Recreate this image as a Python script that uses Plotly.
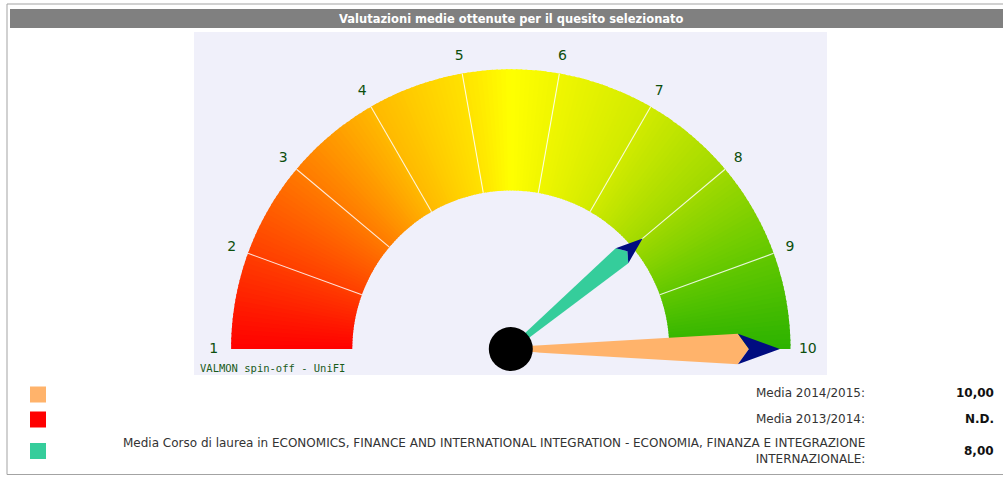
import math
import plotly.graph_objects as go

# ---------------- data ----------------
scale_min = 1
scale_max = 10
tick_labels = ["1", "2", "3", "4", "5", "6", "7", "8", "9", "10"]
tick_values = [1, 2, 3, 4, 5, 6, 7, 8, 9, 10]

series_names = [
    "Media 2014/2015:",
    "Media 2013/2014:",
    "Media Corso di laurea in ECONOMICS, FINANCE AND INTERNATIONAL INTEGRATION - ECONOMIA, FINANZA E INTEGRAZIONE<br>INTERNAZIONALE:",
]
series_values = [10.00, None, 8.00]

title_text = "Valutazioni medie ottenute per il quesito selezionato"
credit_text = "VALMON spin-off - UniFI"

# ---------------- styles ----------------
series_colors = ["#ffb36b", "#ff0000", "#35cd9b"]
needle_len = [0.962, 0.962, 0.615]      # fraction of outer radius
arrow_color = "#000c80"

gradient_stops = [  # (fraction of scale, rgb)
    (0.000, (255, 0, 0)),
    (0.111, (255, 62, 0)),
    (0.222, (255, 122, 0)),
    (0.333, (255, 185, 0)),
    (0.444, (255, 226, 0)),
    (0.500, (255, 255, 0)),
    (0.556, (240, 246, 0)),
    (0.667, (208, 234, 0)),
    (0.778, (160, 217, 0)),
    (0.889, (98, 200, 0)),
    (1.000, (44, 178, 0)),
]

W, H = 1003, 480
CX, CY = 510.8, 349.0
R_OUT, R_IN, R_LAB, R_MAX = 279.7, 158.5, 297.0, 320.0
SECT = 8.0


def theta_of(v):
    return (v - scale_min) / (scale_max - scale_min) * 180.0


def grad(f):
    for (f0, c0), (f1, c1) in zip(gradient_stops[:-1], gradient_stops[1:]):
        if f <= f1:
            t = (f - f0) / (f1 - f0) if f1 > f0 else 0
            c = [round(a + (b - a) * t) for a, b in zip(c0, c1)]
            return "rgb(%d,%d,%d)" % tuple(c)
    return "rgb(%d,%d,%d)" % gradient_stops[-1][1]


fig = go.Figure()

# gauge band (fine barpolar slices for the gradient)
step = 1.0
th, wd, cols = [], [], []
n = int(180 / step)
for i in range(n):
    a = i * step
    b = min(a + step * 1.35, 180.0)
    th.append((a + b) / 2)
    wd.append(b - a)
    cols.append(grad((i + 0.5) / n))
fig.add_trace(go.Barpolar(
    r=[R_OUT - R_IN] * n, base=[R_IN] * n, theta=th, width=wd,
    marker=dict(color=cols, line=dict(width=0)), hoverinfo="skip", showlegend=False))

# white dividers between classes
dr, dt = [], []
for v in tick_values[1:-1]:
    dr += [R_IN, R_OUT, None]
    dt += [theta_of(v), theta_of(v), None]
fig.add_trace(go.Scatterpolar(r=dr, theta=dt, mode="lines",
                              line=dict(color="rgba(255,255,255,0.85)", width=1.1),
                              hoverinfo="skip", showlegend=False))

# tick labels
fig.add_trace(go.Scatterpolar(
    r=[R_LAB] * len(tick_values), theta=[theta_of(v) for v in tick_values],
    mode="text", text=tick_labels, cliponaxis=False,
    textfont=dict(family="DejaVu Sans", size=14, color="#0d4f0d"),
    hoverinfo="skip", showlegend=False))


def polar_pts(theta0, pts):
    rs, ts = [], []
    for d, w in pts:
        rs.append(math.hypot(d, w))
        ts.append(theta0 + math.degrees(math.atan2(w, d)))
    rs.append(rs[0]); ts.append(ts[0])
    return rs, ts


# needles
for name, val, col, lf in zip(series_names, series_values, series_colors, needle_len):
    if val is None:
        continue
    L = lf * R_OUT
    t0 = theta_of(val)
    hw = 0.057 * L
    body = [(0.1, 2.0), (0.844 * L, hw), (0.885 * L, 0.0), (0.844 * L, -hw), (0.1, -2.0)]
    head = [(0.844 * L, hw), (L, 0.0), (0.844 * L, -hw), (0.885 * L, 0.0)]
    r1, t1 = polar_pts(t0, body)
    fig.add_trace(go.Scatterpolar(r=r1, theta=t1, mode="lines", fill="toself",
                                  fillcolor=col, line=dict(width=0, color=col),
                                  hoverinfo="skip", showlegend=False))
    r2, t2 = polar_pts(t0, head)
    fig.add_trace(go.Scatterpolar(r=r2, theta=t2, mode="lines", fill="toself",
                                  fillcolor=arrow_color, line=dict(width=0, color=arrow_color),
                                  hoverinfo="skip", showlegend=False))

# hub
fig.add_trace(go.Scatterpolar(r=[0], theta=[0], mode="markers", cliponaxis=False,
                              marker=dict(size=44, color="black", line=dict(width=0)),
                              hoverinfo="skip", showlegend=False))

# polar domain so the centre lands at (CX, CY) with R_MAX px radius
x0 = (CX - R_MAX) / W
x1 = (CX + R_MAX) / W
top = CY - R_MAX
bot = CY + R_MAX * math.sin(math.radians(SECT))
y0 = 1 - bot / H
y1 = 1 - top / H


def px(x):
    return x / W


def py(y):
    return 1 - y / H


shapes = [
    dict(type="rect", xref="paper", yref="paper", x0=px(7), x1=px(1012), y0=py(4), y1=py(474.5),
         line=dict(color="#a3a3a3", width=1), fillcolor="rgba(0,0,0,0)", layer="below"),
    dict(type="rect", xref="paper", yref="paper", x0=px(10), x1=px(1010), y0=py(9), y1=py(28),
         line=dict(width=0), fillcolor="#808080", layer="below"),
    dict(type="rect", xref="paper", yref="paper", x0=px(194), x1=px(827), y0=py(32), y1=py(375),
         line=dict(width=0), fillcolor="#f0f0fa", layer="below"),
]
sq_y = [394.5, 419.5, 451]
for col, yc in zip(series_colors, sq_y):
    shapes.append(dict(type="rect", xref="paper", yref="paper", x0=px(30), x1=px(46),
                       y0=py(yc - 8), y1=py(yc + 8), line=dict(width=0), fillcolor=col))

annotations = [
    dict(text="<b>%s</b>" % title_text, x=px(512), y=py(19), xref="paper", yref="paper",
         showarrow=False, xanchor="center", yanchor="middle",
         font=dict(family="DejaVu Sans", size=11.5, color="white")),
    dict(text=credit_text, x=px(198), y=py(367.5), xref="paper", yref="paper",
         showarrow=False, xanchor="left", yanchor="middle",
         font=dict(family="DejaVu Sans Mono", size=10.5, color="#1a5c1a")),
]
label_y = [393, 419, 451]
for name, val, yc in zip(series_names, series_values, label_y):
    annotations.append(dict(text=name, x=px(867), y=py(yc), xref="paper", yref="paper",
                            showarrow=False, xanchor="right", yanchor="middle", align="right",
                            font=dict(family="DejaVu Sans", size=12, color="#333333")))
    vtxt = "N.D." if val is None else ("%.2f" % val).replace(".", ",")
    annotations.append(dict(text="<b>%s</b>" % vtxt, x=px(996), y=py(yc), xref="paper", yref="paper",
                            showarrow=False, xanchor="right", yanchor="middle",
                            font=dict(family="DejaVu Sans", size=12, color="#111111")))

fig.update_layout(
    width=W, height=H, margin=dict(l=0, r=0, t=0, b=0),
    paper_bgcolor="white", plot_bgcolor="white",
    showlegend=False,
    polar=dict(
        domain=dict(x=[x0, x1], y=[y0, y1]),
        sector=[-SECT, 180 + SECT],
        bgcolor="rgba(0,0,0,0)",
        barmode="overlay",
        radialaxis=dict(range=[0, R_MAX], visible=False, showgrid=False, showline=False, showticklabels=False, ticks=""),
        angularaxis=dict(rotation=180, direction="clockwise", visible=False, showgrid=False,
                         showline=False, showticklabels=False, ticks=""),
    ),
    shapes=shapes,
    annotations=annotations,
)

fig.write_html("out.html", config={"displayModeBar": False},
               post_script="document.body.style.margin='0';document.body.style.overflow='hidden';")
